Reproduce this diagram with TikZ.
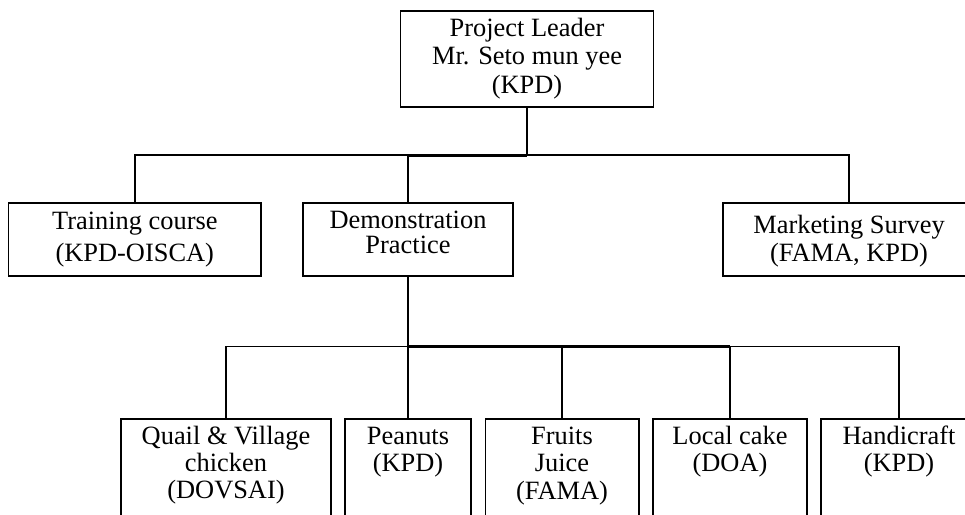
\documentclass[tikz,border=0pt]{standalone}
\usepackage{fontspec}
\setmainfont{Liberation Serif}
\newcommand{\lns}[2]{{\fontsize{26.4}{#1}\selectfont\begin{tabular}[t]{@{}c@{}}#2\end{tabular}}}
\tikzset{
  box/.style={draw=black, line width=1.7pt, rectangle, inner sep=0pt},
  conn/.style={draw=black, line width=1.5pt},
  thickconn/.style={draw=black, line width=3pt},
  txt/.style={inner sep=0pt, anchor=base, text=black},
}
\begin{document}
\begin{tikzpicture}[x=1pt, y=-1pt]
\clip (0,0) rectangle (965,514);
\fill[white] (0,0) rectangle (965,514);
% boxes
\node[box, minimum width=253pt, minimum height=95.7pt] (lead) at (527,58.85) {};
\node[box, minimum width=252.4pt, minimum height=73pt] (train) at (134.8,239.8) {};
\node[box, minimum width=210.6pt, minimum height=73pt] (demo) at (408,239.2) {};
\node[box, minimum width=252.6pt, minimum height=73pt] (market) at (849,239.5) {};
\node[box, minimum width=209.7pt, minimum height=120pt] (quail) at (225.9,479.3) {};
\node[box, minimum width=126pt, minimum height=120pt] (peanut) at (408,479.3) {};
\node[box, minimum width=153.3pt, minimum height=120pt] (fruits) at (562,479.3) {};
\node[box, minimum width=154.6pt, minimum height=120pt] (local) at (730,479.3) {};
\node[box, minimum width=156pt, minimum height=120pt] (handi) at (899,479.3) {};
% texts
\node[txt] (tlead) at (527,36) {\lns{28.7}{Project Leader\\Mr. Seto mun yee\\(KPD)}};
\node[txt] (ttrain) at (134.8,229.5) {\lns{32}{Training course\\(KPD-OISCA)}};
\node[txt] (tdemo) at (408,228.3) {\lns{25}{Demonstration\\Practice}};
\node[txt] (tmarket) at (849,233.3) {\lns{28}{Marketing Survey\\(FAMA, KPD)}};
\node[txt] (tquail) at (226,444.3) {\lns{27}{Quail \& Village\\chicken\\(DOVSAI)}};
\node[txt] (tpeanut) at (408,444.3) {\lns{27.4}{Peanuts\\(KPD)}};
\node[txt] (tfruits) at (562,444.3) {\lns{27.4}{Fruits\\Juice\\(FAMA)}};
\node[txt] (tlocal) at (730,444.3) {\lns{27}{Local cake\\(DOA)}};
\node[txt] (thandi) at (899,444.3) {\lns{27}{Handicraft\\(KPD)}};
% hubs
\coordinate (hub) at (527,155);
\coordinate (hubb) at (408,346.7);
% connectors, upper level
\draw[conn] (lead.south) -- (hub);
\draw[conn] (train.north) |- (hub) -| (market.north);
\draw[conn] (demo.north) -- (demo.north |- hub);
\draw[thickconn] (demo.north |- hub) -- (hub);
% connectors, lower level
\draw[conn, line width=1.8pt] (demo.south) -- (hubb);
\draw[conn] (quail.north) |- (hubb) -| (handi.north);
\draw[conn] (peanut.north) -- (hubb);
\draw[conn] (fruits.north) -- (fruits.north |- hubb);
\draw[conn] (local.north) -- (local.north |- hubb);
\draw[thickconn] (hubb) -- (local.north |- hubb);
\end{tikzpicture}
\end{document}
